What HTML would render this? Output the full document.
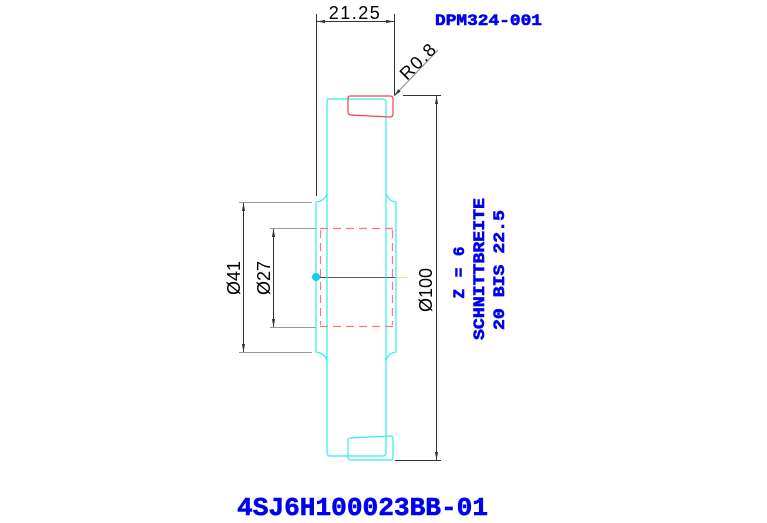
<!DOCTYPE html>
<html><head><style>html,body{margin:0;padding:0;background:#fff}svg{display:block}</style></head><body>
<svg width="767" height="523" viewBox="0 0 767 523" xmlns="http://www.w3.org/2000/svg">
<defs>
<marker id="a" viewBox="0 0 10 10" refX="10" refY="5" markerWidth="8" markerHeight="8" orient="auto-start-reverse" markerUnits="userSpaceOnUse"><path d="M0,3 L10,5 L0,7 z" fill="#333"/></marker>
</defs>
<g fill="none" stroke="#333" stroke-width="1">
<line x1="316.5" y1="14" x2="316.5" y2="196"/>
<line x1="394.5" y1="14" x2="394.5" y2="96"/>
<line x1="317" y1="21.5" x2="394" y2="21.5" marker-start="url(#a)" marker-end="url(#a)"/>
<line x1="438" y1="50" x2="394" y2="96" stroke="#888" marker-end="url(#a)"/>
<line x1="403" y1="95.5" x2="441" y2="95.5"/>
<line x1="395" y1="460.5" x2="441" y2="460.5"/>
<line x1="436.5" y1="96" x2="436.5" y2="460" marker-start="url(#a)" marker-end="url(#a)"/>
<line x1="239" y1="202.5" x2="312" y2="202.5" stroke="#999"/>
<line x1="239" y1="352.5" x2="312" y2="352.5" stroke="#999"/>
<line x1="243.5" y1="203" x2="243.5" y2="352" marker-start="url(#a)" marker-end="url(#a)"/>
<line x1="270" y1="228.5" x2="316" y2="228.5" stroke="#999"/>
<line x1="270" y1="327.5" x2="316" y2="327.5" stroke="#999"/>
<line x1="273.5" y1="229" x2="273.5" y2="327" marker-start="url(#a)" marker-end="url(#a)"/>
</g>
<line x1="311" y1="277.5" x2="408" y2="277.5" stroke="#ee6"/>
<line x1="318" y1="277.5" x2="396" y2="277.5" stroke="#555"/>
<g fill="none" stroke="#3ee" stroke-width="1.2">
<path d="M330,99 H383 Q386,99 386,102 V193 Q388,201 396,202 V352 Q388,353 386,361 V453 Q386,456 383,456 H330 Q327,456 327,453 V361 Q325,353 316,352 V202 Q325,201 327,193 V102 Q327,99 330,99 Z"/>
<line x1="327" y1="193" x2="327" y2="361"/>
<line x1="386" y1="193" x2="386" y2="361"/>
<path d="M350,438 L390,436 Q393,436 393,439 V457 Q393,460 390,460 H351 Q348,460 348,457 V441 Q348,438 350,438 Z"/>
</g>
<path d="M350,96 H390 Q393,96 393,99 V114 Q393,117 390,117 L351,115 Q348,115 348,112 V99 Q348,96 350,96 Z" fill="none" stroke="#e44" stroke-width="1.2"/>
<g stroke="#f77" stroke-dasharray="8,5" fill="none" stroke-width="1.2">
<line x1="320" y1="228.5" x2="393" y2="228.5"/>
<line x1="320" y1="326.5" x2="393" y2="326.5"/>
<line x1="320.5" y1="230" x2="320.5" y2="325"/>
<line x1="392.5" y1="230" x2="392.5" y2="325"/>
</g>
<circle cx="316" cy="277" r="4" fill="#1ce"/>
<g font-family="Liberation Sans, sans-serif" fill="#000" font-size="18">
<text x="355" y="19" text-anchor="middle" letter-spacing="1.5">21.25</text>
<text transform="translate(407,81) rotate(-45)" letter-spacing="1.5">R0.8</text>
<text transform="translate(240,278) rotate(-90)" text-anchor="middle">Ø41</text>
<text transform="translate(270,278) rotate(-90)" text-anchor="middle">Ø27</text>
<text transform="translate(432,290) rotate(-90)" text-anchor="middle">Ø100</text>
</g>
<g font-family="Liberation Mono, monospace" font-weight="bold" fill="#0000f0" stroke="#0000f0" stroke-width="0.6">
<text x="435" y="25" font-size="16" textLength="107" lengthAdjust="spacingAndGlyphs">DPM324-001</text>
<text transform="translate(464,272) rotate(-90)" text-anchor="middle" font-size="16" letter-spacing="1">Z = 6</text>
<text transform="translate(484,269) rotate(-90)" text-anchor="middle" font-size="16" textLength="142" lengthAdjust="spacingAndGlyphs">SCHNITTBREITE</text>
<text transform="translate(504,270) rotate(-90)" text-anchor="middle" font-size="16" textLength="120" lengthAdjust="spacingAndGlyphs">20 BIS 22.5</text>
<text x="237" y="515" font-size="26" textLength="251" lengthAdjust="spacingAndGlyphs">4SJ6H100023BB-01</text>
</g>
</svg>
</body></html>
